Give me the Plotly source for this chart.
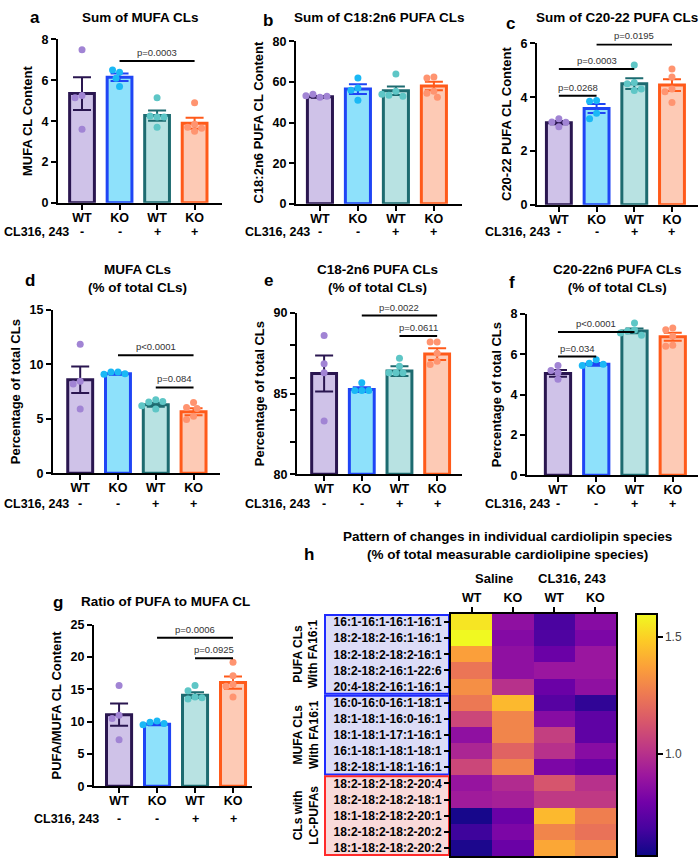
import numpy as np
import plotly.graph_objects as go

W, H = 700, 865
FONT = "Liberation Sans, Arial, sans-serif"

# ---------------- data ----------------
genotype = ["WT", "KO", "WT", "KO"]
treatment = ["-", "-", "+", "+"]
treat_name = "CL316, 243"

a_title = "Sum of MUFA CLs"
a_ylabel = "MUFA CL Content"
a_mean = [5.35, 6.15, 4.27, 3.9]
a_sem = [0.8, 0.18, 0.25, 0.27]
a_points = [[7.5, 5.25, 5.15, 3.6], [6.4, 6.5, 6.1, 5.7],
            [5.15, 4.2, 4.25, 3.7, 4.2], [4.9, 3.85, 3.5, 3.7, 3.65]]
a_pvals = [(1, 3, "p=0.0003")]

b_title = "Sum of C18:2n6 PUFA CLs"
b_ylabel = "C18:2n6 PUFA CL Content"
b_mean = [52.7, 56.5, 55.7, 58.0]
b_sem = [0.4, 2.4, 2.1, 2.1]
b_points = [[52.5, 54.0, 53.0, 53.2], [62.0, 57.0, 56.0, 51.0],
            [64.0, 55.5, 53.5, 53.0, 54.0], [62.5, 62.0, 55.5, 54.5, 52.5]]
b_pvals = []

c_title = "Sum of C20-22 PUFA CLs"
c_ylabel = "C20-22 PUFA CL Content"
c_mean = [3.05, 3.58, 4.5, 4.45]
c_sem = [0.06, 0.17, 0.2, 0.22]
c_points = [[3.2, 3.08, 3.07, 2.9], [3.88, 3.85, 3.4, 3.2],
            [5.2, 4.55, 4.5, 4.25, 4.3], [5.05, 4.75, 4.3, 4.2, 3.8]]
c_pvals = [(0, 1, "p=0.0268"), (0, 2, "p=0.0003"), (1, 3, "p=0.0195")]

d_title = "MUFA CLs<br>(% of total CLs)"
d_ylabel = "Percentage of total CLs"
d_mean = [8.6, 9.15, 6.3, 5.65]
d_sem = [1.22, 0.1, 0.18, 0.32]
d_points = [[11.85, 8.45, 8.2, 5.9], [9.3, 9.3, 9.15, 9.1],
            [6.75, 6.55, 6.6, 5.9, 6.2], [6.5, 6.05, 5.95, 5.25, 4.95]]
d_pvals = [(1, 3, "p<0.0001"), (2, 3, "p=0.084")]

e_title = "C18-2n6 PUFA CLs<br>(% of total CLs)"
e_ylabel = "Percentage of total CLs"
e_mean = [86.25, 85.25, 86.4, 87.45]
e_sem = [1.12, 0.15, 0.3, 0.37]
e_points = [[88.6, 86.85, 86.3, 83.3], [85.67, 85.2, 85.2, 85.2],
            [87.2, 86.7, 86.3, 86.3, 86.3], [88.2, 88.2, 87.5, 87.0, 86.8]]
e_pvals = [(1, 3, "p=0.0022"), (2, 3, "p=0.0611")]

f_title = "C20-22n6 PUFA CLs<br>(% of total CLs)"
f_ylabel = "Percentage of total CLs"
f_mean = [5.05, 5.5, 7.16, 6.87]
f_sem = [0.17, 0.07, 0.12, 0.2]
f_points = [[5.45, 5.2, 5.1, 4.76], [5.73, 5.55, 5.5, 5.45],
            [7.55, 7.2, 7.15, 6.95, 7.05], [7.3, 7.22, 6.9, 6.45, 6.4]]
f_pvals = [(0, 1, "p=0.034"), (0, 2, "p<0.0001"), (1, 3, "p=0.0005")]

g_title = "Ratio of PUFA to MUFA CL"
g_ylabel = "PUFA/MUFA CL Content"
g_mean = [11.08, 9.6, 14.1, 16.05]
g_sem = [1.72, 0.15, 0.45, 0.95]
g_points = [[15.6, 11.0, 10.5, 7.2], [10.1, 9.9, 9.7, 9.5],
            [15.6, 14.8, 13.8, 13.5, 13.7], [19.2, 17.1, 15.8, 15.5, 13.8]]
g_pvals = [(1, 3, "p=0.0006"), (2, 3, "p=0.0925")]

h_title = "Pattern of changes in individual cardiolipin species<br>(% of total measurable cardiolipine species)"
h_col_groups = ["Saline", "CL316, 243"]
h_cols = ["WT", "KO", "WT", "KO"]
h_rows = ["16:1-16:1-16:1-16:1", "18:2-18:2-16:1-16:1", "18:2-18:2-18:2-16:1",
          "18:2-18:2-16:1-22:6", "20:4-18:2-16:1-16:1",
          "16:0-16:0-16:1-18:1", "18:1-18:1-16:0-16:1", "18:1-18:1-17:1-16:1",
          "16:1-18:1-18:1-18:1", "18:2-18:1-18:1-16:1",
          "18:2-18:2-18:2-20:4", "18:2-18:2-18:2-18:1", "18:1-18:2-18:2-20:1",
          "18:2-18:2-18:2-20:2", "18:1-18:2-18:2-20:2"]
h_values = [
    [1.55, 0.87, 0.69, 0.85],
    [1.60, 0.84, 0.70, 0.82],
    [1.37, 0.87, 0.77, 0.90],
    [1.24, 0.87, 0.90, 0.90],
    [1.32, 1.00, 0.77, 0.87],
    [1.25, 1.44, 0.72, 0.63],
    [1.08, 1.29, 0.85, 0.74],
    [0.87, 1.29, 1.05, 0.74],
    [0.96, 1.18, 1.00, 0.85],
    [1.08, 1.29, 0.82, 0.77],
    [0.89, 0.98, 1.13, 1.00],
    [0.92, 0.94, 1.03, 1.03],
    [0.58, 0.77, 1.44, 1.27],
    [0.66, 0.82, 1.29, 1.23],
    [0.59, 0.77, 1.39, 1.31],
]
h_groups = ["PUFA CLs<br>With FA16:1", "MUFA CLs<br>With FA16:1", "CLs with<br>LC-PUFAs"]
h_group_sizes = [5, 5, 5]
h_cbar_ticks = [1.0, 1.5]
h_zrange = [0.56, 1.60]

# ---------------- styles ----------------
bar_fill = ["#cfc2e8", "#8ee1fb", "#b8e2e2", "#fdcab5"]
bar_edge = ["#2a1650", "#1f45f5", "#1d6b70", "#ff5a1a"]
dot_col = ["#a184d4", "#1ab8f5", "#5ec6c6", "#ff9470"]


def PX(x):
    return x / W


def PY(y):
    return 1 - y / H


panels = [
    dict(letter="a", title=a_title, ylabel=a_ylabel, mean=a_mean, sem=a_sem, pts=a_points, pv=a_pvals,
         xdom=(58, 222), ydom=(33, 199), yr=(0, 8), dtick=2, xr=(-0.64, 3.73), bry=[6.95],
         txy=(140, 11), lxy=(35, 11), trow=229, tx=2),
    dict(letter="b", title=b_title, ylabel=b_ylabel, mean=b_mean, sem=b_sem, pts=b_points, pv=b_pvals,
         xdom=(296, 462), ydom=(35, 200), yr=(0, 80), dtick=20, xr=(-0.63, 3.74), bry=[],
         txy=(380, 11), lxy=(268, 14), trow=229, tx=243),
    dict(letter="c", title=c_title, ylabel=c_ylabel, mean=c_mean, sem=c_sem, pts=c_points, pv=c_pvals,
         xdom=(537, 698), ydom=(37, 201), yr=(0, 6), dtick=2, xr=(-0.58, 3.69), bry=[4.05, 5.05, 5.96],
         txy=(617, 11), lxy=(510, 17), trow=229, tx=483),
    dict(letter="d", title=d_title, ylabel=d_ylabel, mean=d_mean, sem=d_sem, pts=d_points, pv=d_pvals,
         xdom=(53, 220), ydom=(308, 474), yr=(0, 15), dtick=5, xr=(-0.72, 3.7), bry=[10.84, 7.89],
         txy=(137, 276), lxy=(30, 278), trow=505, tx=2),
    dict(letter="e", title=e_title, ylabel=e_ylabel, mean=e_mean, sem=e_sem, pts=e_points, pv=e_pvals,
         xdom=(297, 462), ydom=(311, 475), yr=(80, 90), dtick=5, xr=(-0.72, 3.66), bry=[89.84, 88.58],
         txy=(377, 276), lxy=(268, 278), trow=505, tx=243, minor=[82, 84, 86, 88]),
    dict(letter="f", title=f_title, ylabel=f_ylabel, mean=f_mean, sem=f_sem, pts=f_points, pv=f_pvals,
         xdom=(527, 698), ydom=(312, 476), yr=(0, 8), dtick=2, xr=(-0.81, 3.66), bry=[5.89, 7.1, 8.08],
         txy=(617, 276), lxy=(512, 280), trow=505, tx=483),
    dict(letter="g", title=g_title, ylabel=g_ylabel, mean=g_mean, sem=g_sem, pts=g_points, pv=g_pvals,
         xdom=(94, 252), ydom=(628, 792), yr=(0, 25), dtick=5, xr=(-0.66, 3.5), bry=[23.0, 19.84],
         txy=(165, 604), lxy=(58, 605), trow=825, tx=32),
]


def swarm(vals, ppu_y, ppu_x, d=7.0):
    placed, offs = [], []
    for v in vals:
        y = v * ppu_y
        cands = [0.0]
        for k in range(1, 12):
            cands += [-k * d / 2, k * d / 2]
        for c in cands:
            if all((c - px) ** 2 + (y - py) ** 2 >= d * d * 0.95 for px, py in placed):
                break
        placed.append((c, y))
        offs.append(c / ppu_x)
    return offs


fig = go.Figure()
layout = dict(
    width=W, height=H, margin=dict(l=0, r=0, t=0, b=0),
    paper_bgcolor="white", plot_bgcolor="white", showlegend=False,
    font=dict(family=FONT, color="black"),
)
annotations = []
shapes = []

bold = dict(family=FONT, color="black", weight=700)


def note(x, y, text, size, **kw):
    d = dict(x=PX(x), y=PY(y), xref="paper", yref="paper", text=text, showarrow=False,
             xanchor="center", yanchor="middle", font=dict(size=size, **bold))
    d.update(kw)
    annotations.append(d)


for n, p in enumerate(panels, start=1):
    xa = "x" if n == 1 else f"x{n}"
    ya = "y" if n == 1 else f"y{n}"
    xk = "xaxis" if n == 1 else f"xaxis{n}"
    yk = "yaxis" if n == 1 else f"yaxis{n}"
    ppu_y = (p["ydom"][1] - p["ydom"][0]) / (p["yr"][1] - p["yr"][0])
    ppu_x = (p["xdom"][1] - p["xdom"][0]) / (p["xr"][1] - p["xr"][0])

    fig.add_trace(go.Bar(
        x=list(range(4)), y=[m - p["yr"][0] for m in p["mean"]], base=p["yr"][0],
        width=0.66, marker=dict(color=bar_fill, line=dict(color=bar_edge, width=3)),
        xaxis=xa, yaxis=ya, hoverinfo="skip"))
    for i in range(4):
        fig.add_trace(go.Scatter(
            x=[i], y=[p["mean"][i]], mode="markers",
            marker=dict(size=1, color="rgba(0,0,0,0)"),
            error_y=dict(type="data", array=[p["sem"][i]], color=bar_edge[i], thickness=2, width=9),
            xaxis=xa, yaxis=ya, hoverinfo="skip"))
        offs = swarm(p["pts"][i], ppu_y, ppu_x)
        fig.add_trace(go.Scatter(
            x=[i + o for o in offs], y=p["pts"][i], mode="markers",
            marker=dict(size=7, color=dot_col[i], line=dict(width=0)),
            xaxis=xa, yaxis=ya, hoverinfo="skip"))

    layout[xk] = dict(
        domain=[PX(p["xdom"][0]), PX(p["xdom"][1])], range=list(p["xr"]), anchor=ya,
        tickmode="array", tickvals=list(range(4)), ticktext=genotype,
        ticks="outside", ticklen=5, tickwidth=2, tickcolor="black", ticklabelstandoff=-3,
        showline=True, linewidth=2, linecolor="black", showgrid=False, zeroline=False,
        tickfont=dict(size=12.5, **bold), fixedrange=True)
    yax = dict(
        domain=[PY(p["ydom"][1]), PY(p["ydom"][0])], range=list(p["yr"]), anchor=xa,
        tick0=p["yr"][0], dtick=p["dtick"],
        ticks="outside", ticklen=5, tickwidth=2, tickcolor="black",
        showline=True, linewidth=2, linecolor="black", showgrid=False, zeroline=False,
        tickfont=dict(size=12.5, **bold),
        title=dict(text=p["ylabel"], font=dict(size=13, **bold), standoff=6))
    if "minor" in p:
        yax["minor"] = dict(tickmode="array", tickvals=p["minor"], ticks="outside",
                            ticklen=5, tickwidth=2, tickcolor="black", showgrid=False)
    layout[yk] = yax

    # significance brackets
    for (i, j, txt), yb in zip(p["pv"], p["bry"]):
        shapes.append(dict(type="line", xref=xa, yref=ya, x0=i, x1=j, y0=yb, y1=yb,
                           line=dict(color="black", width=2)))
        annotations.append(dict(x=(i + j) / 2, y=yb, xref=xa, yref=ya, text=txt,
                                showarrow=False, xanchor="center", yanchor="bottom", yshift=1,
                                font=dict(family=FONT, size=9.5, color="#333")))
    # title and letter
    note(p["txy"][0], p["txy"][1], p["title"], 13.5)
    note(p["lxy"][0], p["lxy"][1], p["letter"], 17)
    # treatment row
    note(p["tx"], p["trow"], treat_name, 12.5, xanchor="left")
    for i in range(4):
        annotations.append(dict(x=i, y=PY(p["trow"]), xref=xa, yref="paper",
                                text=treatment[i], showarrow=False, xanchor="center", yanchor="middle",
                                font=dict(size=12.5, **bold)))

# ---------------- heatmap (panel h) ----------------
hx0, hx1, hy0, hy1 = 451, 616, 617, 863
nrow = len(h_rows)
fig.add_trace(go.Heatmap(
    z=h_values, x=list(range(4)), y=list(range(nrow)),
    colorscale="Plasma", zmin=h_zrange[0], zmax=h_zrange[1],
    xaxis="x8", yaxis="y8", hoverinfo="skip",
    colorbar=dict(x=PX(636), xanchor="left", xpad=0, ypad=0,
                  y=PY((hy0 + hy1) / 2), yanchor="middle", len=(hy1 - hy0) / H, lenmode="fraction",
                  thickness=21, outlinewidth=2, outlinecolor="black",
                  tickmode="array", tickvals=h_cbar_ticks, ticktext=[f"{v:.1f}" for v in h_cbar_ticks],
                  ticks="outside", ticklen=5, tickwidth=2, tickcolor="black",
                  tickfont=dict(family=FONT, size=12, color="#444"))))
layout["xaxis8"] = dict(domain=[PX(hx0), PX(hx1)], range=[-0.5, 3.5], anchor="y8", side="top",
                        tickmode="array", tickvals=list(range(4)), ticktext=h_cols,
                        ticks="outside", ticklen=5, tickwidth=2, tickcolor="black",
                        showline=True, mirror=True, linewidth=2, linecolor="black",
                        showgrid=False, zeroline=False, tickfont=dict(size=12.5, **bold))
layout["yaxis8"] = dict(domain=[PY(hy1), PY(hy0)], range=[nrow - 0.5, -0.5], anchor="x8",
                        tickmode="array", tickvals=list(range(nrow)), ticktext=h_rows,
                        ticks="outside", ticklen=5, tickwidth=2, tickcolor="black",
                        showline=True, mirror=True, linewidth=2, linecolor="black",
                        showgrid=False, zeroline=False, tickfont=dict(size=12, **bold))

# group boxes
row_h = (hy1 - hy0) / nrow
box_fill = ["#dcdcf7", "#dcdcf7", "#f9dada"]
box_line = ["#1f2bff", "#1f2bff", "#ff2a2a"]
start = 0
for k, (gname, gs) in enumerate(zip(h_groups, h_group_sizes)):
    top = hy0 + start * row_h
    bot = hy0 + (start + gs) * row_h
    shapes.append(dict(type="rect", xref="paper", yref="paper", x0=PX(325), x1=PX(449),
                       y0=PY(bot - 1), y1=PY(top + 1), fillcolor=box_fill[k],
                       line=dict(color=box_line[k], width=2), layer="below"))
    note(306, (top + bot) / 2, gname, 12, textangle=-90)
    start += gs

note(507, 547, h_title, 13.5)
note(309, 557, "h", 17)
note(494, 581, h_col_groups[0], 13)
note(572, 581, h_col_groups[1], 13)

layout["annotations"] = annotations
layout["shapes"] = shapes
fig.update_layout(**layout)
fig.write_html("out.html", config={"displayModeBar": False},
               post_script="document.body.style.margin='0px';")
